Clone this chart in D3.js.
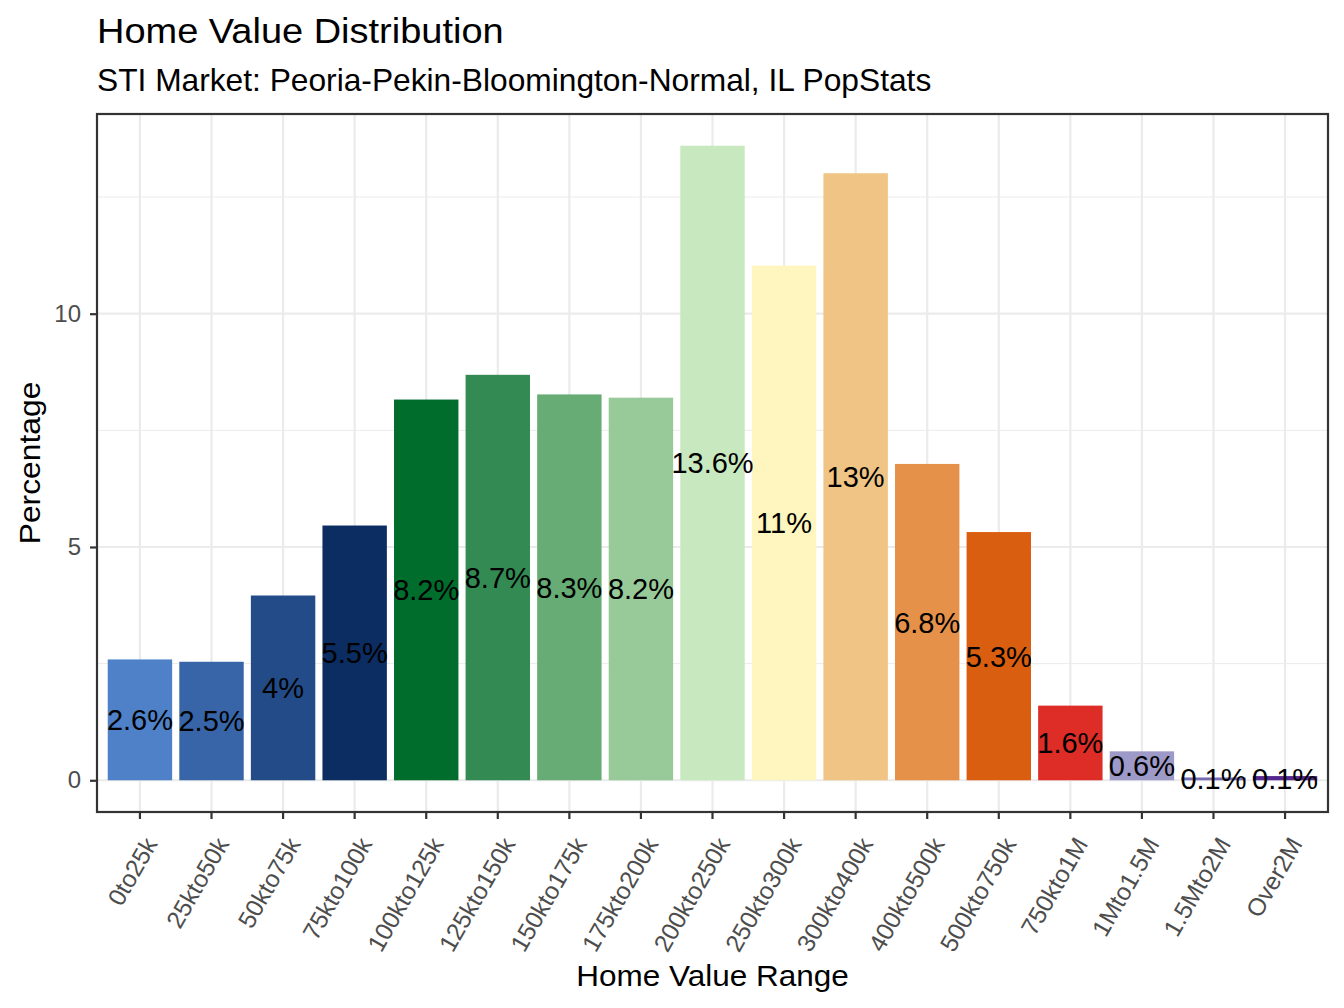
<!DOCTYPE html>
<html>
<head>
<meta charset="utf-8">
<script src="https://cdn.jsdelivr.net/npm/d3@7"></script>
<style>
  html, body { margin: 0; padding: 0; background: #ffffff; }
  svg text { font-family: "Liberation Sans", Arial, sans-serif; }
</style>
</head>
<body>
<svg id="chart" width="1344" height="1008"></svg>
<script>
const categories = ["0to25k","25kto50k","50kto75k","75kto100k","100kto125k","125kto150k","150kto175k","175kto200k","200kto250k","250kto300k","300kto400k","400kto500k","500kto750k","750kto1M","1Mto1.5M","1.5Mto2M","Over2M"];
const values = [2.59, 2.54, 3.96, 5.46, 8.16, 8.69, 8.27, 8.20, 13.6, 11.03, 13.01, 6.78, 5.32, 1.60, 0.62, 0.06, 0.09];
const labels = ["2.6%","2.5%","4%","5.5%","8.2%","8.7%","8.3%","8.2%","13.6%","11%","13%","6.8%","5.3%","1.6%","0.6%","0.1%","0.1%"];
const colors = ["#4F81C8","#3765A8","#224B87","#0C2D62","#006D2C","#338A53","#66AC74","#97CA98","#C8E8BF","#FEF6BE","#F0C484","#E6914A","#DA5E10","#DE2D26","#9E9AC8","#756BB1","#54278F"];
const yTicks = [0, 5, 10];
const yMinor = [2.5, 7.5, 12.5];

const svg = d3.select("#chart");
const P = { left: 97, right: 1328, top: 114, bottom: 812 };

const x = d3.scaleBand().domain(categories).range([P.left, P.right])
  .paddingInner(0.1).paddingOuter(0.15);
const maxV = d3.max(values);
const yExp = maxV * 0.05;
const y = d3.scaleLinear().domain([0 - yExp, maxV + yExp]).range([P.bottom, P.top]);

svg.append("rect").attr("x", P.left).attr("y", P.top)
  .attr("width", P.right - P.left).attr("height", P.bottom - P.top).attr("fill", "#ffffff");

const grid = svg.append("g");
grid.selectAll("line.minor").data(yMinor).join("line")
  .attr("x1", P.left).attr("x2", P.right)
  .attr("y1", d => y(d)).attr("y2", d => y(d))
  .attr("stroke", "#EBEBEB").attr("stroke-width", 1);
grid.selectAll("line.majy").data(yTicks).join("line")
  .attr("x1", P.left).attr("x2", P.right)
  .attr("y1", d => y(d)).attr("y2", d => y(d))
  .attr("stroke", "#EBEBEB").attr("stroke-width", 2.2);
grid.selectAll("line.majx").data(categories).join("line")
  .attr("x1", d => x(d) + x.bandwidth() / 2).attr("x2", d => x(d) + x.bandwidth() / 2)
  .attr("y1", P.top).attr("y2", P.bottom)
  .attr("stroke", "#EBEBEB").attr("stroke-width", 2.2);

svg.append("g").selectAll("rect").data(categories).join("rect")
  .attr("x", d => x(d))
  .attr("width", x.bandwidth())
  .attr("y", (d, i) => y(values[i]))
  .attr("height", (d, i) => y(0) - y(values[i]))
  .attr("fill", (d, i) => colors[i]);

svg.append("g").selectAll("text").data(categories).join("text")
  .attr("x", d => x(d) + x.bandwidth() / 2)
  .attr("y", (d, i) => y(values[i] / 2))
  .attr("dy", "0.36em")
  .attr("text-anchor", "middle")
  .attr("font-size", 29)
  .attr("fill", "#000000")
  .text((d, i) => labels[i]);

svg.append("rect").attr("x", P.left).attr("y", P.top)
  .attr("width", P.right - P.left).attr("height", P.bottom - P.top)
  .attr("fill", "none").attr("stroke", "#333333").attr("stroke-width", 2.2);

const yAxis = d3.axisLeft(y).tickValues(yTicks).tickSize(7).tickPadding(9).tickFormat(d3.format("d"));
const gy = svg.append("g").attr("transform", `translate(${P.left},0)`).call(yAxis);
gy.select(".domain").remove();
gy.selectAll(".tick line").attr("stroke", "#333333").attr("stroke-width", 2.2);
gy.selectAll(".tick text").attr("fill", "#4D4D4D").attr("font-size", 24)
  .attr("font-family", "Liberation Sans, Arial, sans-serif");

const xAxis = d3.axisBottom(x).tickSize(7).tickPadding(0);
const gx = svg.append("g").attr("transform", `translate(0,${P.bottom})`).call(xAxis);
gx.select(".domain").remove();
gx.selectAll(".tick line").attr("stroke", "#333333").attr("stroke-width", 2.2);
gx.selectAll(".tick text")
  .attr("fill", "#4D4D4D").attr("font-size", 24.5)
  .attr("font-family", "Liberation Sans, Arial, sans-serif")
  .attr("text-anchor", "end")
  .attr("y", 0).attr("dy", "0.72em")
  .attr("transform", "translate(3,23) rotate(-60)");

svg.append("text").attr("transform", "translate(97,43) scale(1.07,1)")
  .attr("font-size", 35.5).attr("fill", "#000")
  .text("Home Value Distribution");
svg.append("text").attr("transform", "translate(97,91) scale(1.04,1)")
  .attr("font-size", 30.5).attr("fill", "#000")
  .text("STI Market: Peoria-Pekin-Bloomington-Normal, IL PopStats");
svg.append("text").attr("transform", `translate(${(P.left + P.right) / 2},986) scale(1.05,1)`)
  .attr("text-anchor", "middle").attr("font-size", 30).attr("fill", "#000")
  .text("Home Value Range");
svg.append("text").attr("transform", `translate(40,${(P.top + P.bottom) / 2}) rotate(-90) scale(1.06,1)`)
  .attr("text-anchor", "middle").attr("font-size", 30).attr("fill", "#000")
  .text("Percentage");
</script>
</body>
</html>
